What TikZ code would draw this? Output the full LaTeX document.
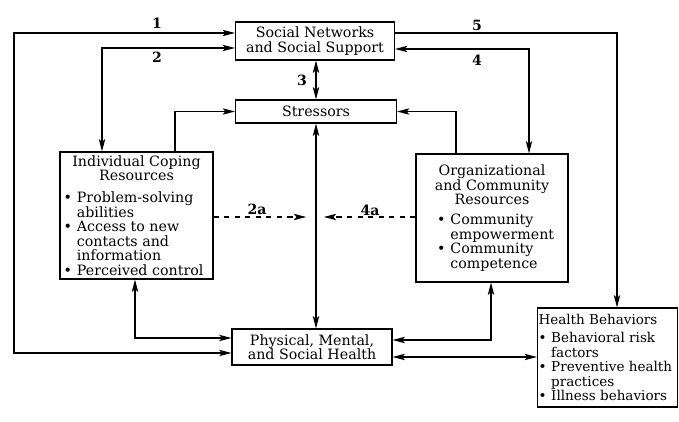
\documentclass[tikz,border=0pt]{standalone}
\usepackage{fontspec}
\setmainfont{DejaVu Serif}
\usetikzlibrary{arrows.meta,positioning}

\newcommand{\bul}[1]{\par\setbox0\hbox{\textbullet\hspace{0.35em}}\hangindent=\wd0\hangafter=1\noindent\box0 #1}

\tikzset{
  box/.style={draw, semithick, inner sep=0pt, align=center, font=\fontsize{8.1}{8.3}\selectfont},
  link/.style={thick},
  num/.style={font=\fontsize{8}{8}\selectfont\bfseries},
}

\begin{document}
\begin{tikzpicture}[x=0.02cm, y=-0.02cm, >={Stealth[length=7pt,width=3.6pt,inset=1.5pt]}]
    \useasboundingbox (0,0) rectangle (679,422);
    % boxes
    \node[box, minimum width=3.18cm, minimum height=0.76cm] (sn) at (315,41) {Social Networks\\and Social Support};
    \node[box, minimum width=3.22cm, minimum height=0.46cm] (st) at (316,111.5) {Stressors};
    \node[box, minimum width=3.06cm, minimum height=2.54cm] (cop) at (136.5,215.5) {Individual Coping\\Resources\\[4pt]
        \parbox[t]{2.92cm}{\raggedright\bul{Problem-solving\newline abilities}\bul{Access to new\newline contacts and\newline information}\bul{Perceived control}}};
    \node[box, minimum width=3.04cm, minimum height=2.56cm] (org) at (492,218) {Organizational\\and Community\\Resources\\[3pt]
        \parbox[t]{2.2cm}{\raggedright\bul{Community\newline empowerment}\bul{Community\newline competence}}};
    \node[box, minimum width=3.2cm, minimum height=0.72cm] (phy) at (312,347) {Physical, Mental,\\and Social Health};
    \node[box, minimum width=2.8cm, minimum height=1.98cm, font=\fontsize{7.7}{8.3}\selectfont] (hb) at (678,357.5) [anchor=east] {\parbox[t]{2.76cm}{\raggedright Health Behaviors\par\vspace{2pt}
        \bul{Behavioral risk\newline factors}\bul{Preventive health\newline practices}\bul{Illness behaviors}}};

    % corners of the links
    \coordinate (l1) at (14,33);
    \coordinate (l1b) at (14,353);
    \coordinate (l2) at (102,48);
    \coordinate (l6) at (175,111);
    \coordinate (l7) at (135,338);
    \coordinate (r4) at (529,49);
    \coordinate (r5) at (617,33);
    \coordinate (r6) at (456,111);
    \coordinate (r7) at (491,340);
    \coordinate (r8) at (460,357);
    \coordinate (mid) at (315,217);

    \draw[link,<->] (sn.west |- l1) -- (l1) -- (l1b) -- (phy.west |- l1b);
    \draw[link,<->] (sn.west |- l2) -- (l2) -- (cop.north -| l2);
    \draw[link,<->] (sn.south -| st.north) -- (st.north);
    \draw[link,->] (cop.north -| l6) |- (st.west);
    \draw[link,<->] (st.south) -- (phy.north -| st.south);
    \draw[link,<->] (sn.east |- r4) -- (r4) -- (org.north -| r4);
    \draw[link,->] (sn.east |- r5) -- (r5) -- (hb.north -| r5);
    \draw[link,->] (org.north -| r6) |- (st.east);
    \draw[link,<->] (phy.east |- r7) -| (org.south -| r7);
    \draw[link,<->] (phy.east |- r8) -- (hb.west |- r8);
    \draw[link,<->] (cop.south -| l7) |- (phy.west |- l7);
    \draw[link,->,dashed,shorten >=5pt] (cop.east |- mid) -- (mid);
    \draw[link,->,dashed,shorten >=5pt] (org.west |- mid) -- (mid);

    % labels
    \node[num] (n1) at (157,23) {1};
    \node[num] (n2) at (157,57) {2};
    \node[num] (n3) at (302,80) {3};
    \node[num] (n4) at (477,60) {4};
    \node[num] (n5) at (477,25) {5};
    \node[num] (n2a) at (257,209) {2a};
    \node[num] (n4a) at (370,210) {4a};
\end{tikzpicture}
\end{document}
